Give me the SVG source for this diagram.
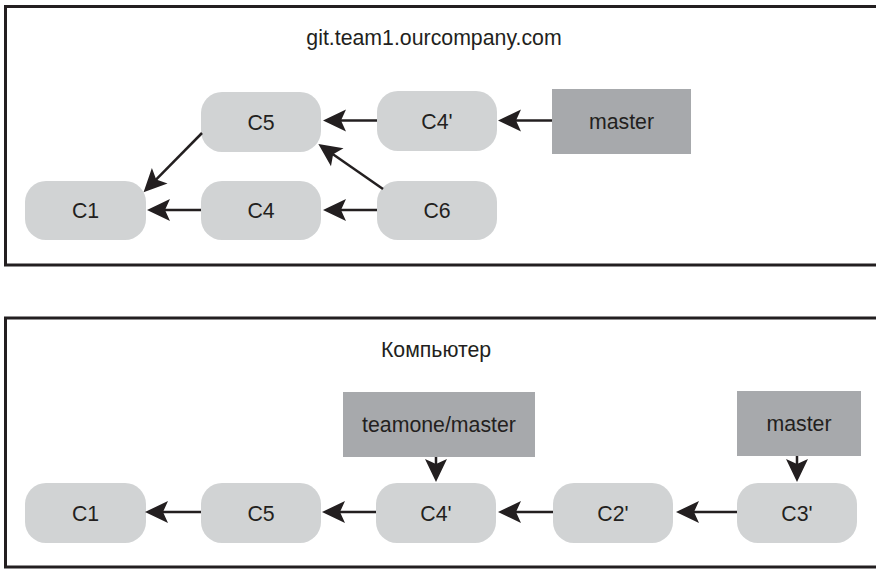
<svg xmlns="http://www.w3.org/2000/svg" width="876" height="569" viewBox="0 0 876 569">
<style>
.frame{fill:none;stroke:#231f20;stroke-width:3}
.commit{fill:#d1d3d4}
.branch{fill:#a7a9ac}
text{font-family:"Liberation Sans",Arial,sans-serif;font-size:21.3px;fill:#231f20;text-anchor:middle}
.edge{stroke:#231f20;stroke-width:2.5;fill:none;marker-end:url(#arr)}
</style>
<defs>
<marker id="arr" markerUnits="userSpaceOnUse" refX="0" refY="0" orient="auto" overflow="visible" markerWidth="30" markerHeight="30">
<path d="M16,0 L-7,-11 L-2,0 L-7,11 Z" fill="#231f20"/>
</marker>
</defs>
<rect class="frame" x="5.5" y="6.5" width="880" height="258.5"/>
<rect class="frame" x="5.5" y="318" width="880" height="249"/>
<g id="title-remote"><text x="434" y="45">git.team1.ourcompany.com</text></g>
<g id="title-local"><text x="436" y="357">Компьютер</text></g>

<g id="r-C5"><rect class="commit" x="201" y="92" width="120" height="60" rx="21"/><text x="261" y="130">C5</text></g>
<g id="r-C4p"><rect class="commit" x="377" y="91" width="120" height="60" rx="21"/><text x="437" y="129">C4'</text></g>
<g id="r-master"><rect class="branch" x="552" y="89" width="139" height="65"/><text x="621.5" y="129">master</text></g>
<g id="r-C1"><rect class="commit" x="25" y="181" width="121" height="59" rx="21"/><text x="85.5" y="218">C1</text></g>
<g id="r-C4"><rect class="commit" x="201" y="181" width="120" height="59" rx="21"/><text x="261" y="218">C4</text></g>
<g id="r-C6"><rect class="commit" x="377" y="181" width="120" height="59" rx="21"/><text x="437" y="218">C6</text></g>

<g id="l-teamone"><rect class="branch" x="343" y="392" width="192" height="65"/><text x="439" y="432">teamone/master</text></g>
<g id="l-master"><rect class="branch" x="737" y="391" width="124" height="65"/><text x="799" y="431">master</text></g>
<g id="l-C1"><rect class="commit" x="25" y="483" width="121" height="60" rx="21"/><text x="85.5" y="521">C1</text></g>
<g id="l-C5"><rect class="commit" x="201" y="483" width="120" height="60" rx="21"/><text x="261" y="521">C5</text></g>
<g id="l-C4p"><rect class="commit" x="376" y="483" width="120" height="60" rx="21"/><text x="436" y="521">C4'</text></g>
<g id="l-C2p"><rect class="commit" x="553" y="483" width="120" height="60" rx="21"/><text x="613" y="521">C2'</text></g>
<g id="l-C3p"><rect class="commit" x="737" y="483" width="120" height="60" rx="21"/><text x="797" y="521">C3'</text></g>

<g id="connectors">
<line class="edge" x1="377" y1="120.5" x2="339" y2="120.5"/>
<line class="edge" x1="552" y1="120.5" x2="514" y2="120.5"/>
<line class="edge" x1="383" y1="189" x2="331.5" y2="153.2"/>
<line class="edge" x1="202" y1="133" x2="154.8" y2="180.8"/>
<line class="edge" x1="201" y1="210" x2="163" y2="210"/>
<line class="edge" x1="377" y1="210" x2="339" y2="210"/>

<line class="edge" x1="201" y1="512" x2="161" y2="512"/>
<line class="edge" x1="376" y1="512" x2="338" y2="512"/>
<line class="edge" x1="553" y1="512" x2="514" y2="512"/>
<line class="edge" x1="737" y1="512" x2="692" y2="512"/>
<line class="edge" x1="436" y1="457" x2="436" y2="466"/>
<line class="edge" x1="797" y1="456" x2="797" y2="466"/>
</g>
</svg>
